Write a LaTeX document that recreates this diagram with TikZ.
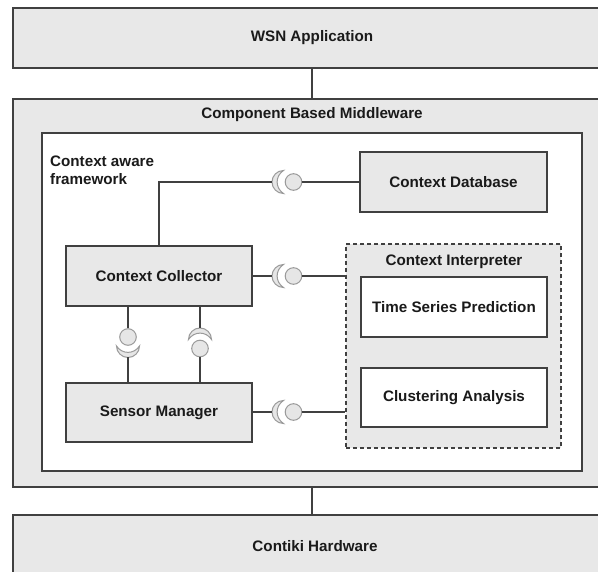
\documentclass[tikz,border=0pt]{standalone}
\usepackage{fontspec}
\setmainfont{Liberation Sans}
\definecolor{edge}{HTML}{404040}
\definecolor{boxfill}{HTML}{E8E8E8}
\definecolor{lollyline}{HTML}{9B9B9B}
\definecolor{lollyfill}{HTML}{E6E6E6}
\definecolor{txt}{HTML}{1A1A1A}
\begin{document}
\begin{tikzpicture}[x=1pt,y=-1pt,
  every node/.style={font=\fontsize{15.2}{17.5}\selectfont\bfseries, text=txt},
  box/.style={rectangle, draw=edge, fill=boxfill, line width=1.2pt, inner sep=0pt},
  whitebox/.style={box, fill=white},
  dashbox/.style={box, dash pattern=on 4pt off 3pt},
  label/.style={inner sep=0pt},
  wire/.style={draw=edge, line width=1.2pt},
  ball/.style={circle, draw=lollyline, fill=lollyfill, line width=1pt,
    minimum size=16.6pt, inner sep=0pt},
  socket/.pic={
    \draw[draw=lollyline, fill=lollyfill, line width=1pt]
      (0,-11.5) arc[start angle=270, end angle=90, radius=11.5]
      .. controls (-8.5,6) and (-8.5,-6) .. cycle;
  }
]
\useasboundingbox (0,0) rectangle (598,572);
\clip (0,0) rectangle (598,572);

% layers
\node[box, minimum width=598pt, minimum height=60pt] (wsn) at (312,38) {WSN Application};
\node[box, minimum width=598pt, minimum height=388pt] (mw) at (312,293) {};
\node[label] (mwtitle) at (312,115) {Component Based Middleware};
\node[box, minimum width=598pt, minimum height=105pt] (hw) at (312,567.5) {};
\node[label] (hwtitle) at (315,546) {Contiki Hardware};

% context aware framework
\node[whitebox, minimum width=540pt, minimum height=338pt] (frame) at (312,302) {};
\node[label, anchor=north west, align=left] (frametitle) at (50,156) {Context aware\\framework};

\node[box, minimum width=187pt, minimum height=60pt] (db) at (453.5,182) {Context Database};
\node[box, minimum width=186pt, minimum height=60pt] (cc) at (159,276) {Context Collector};
\node[box, minimum width=186pt, minimum height=59pt] (sm) at (159,412.5) {Sensor Manager};

\node[dashbox, minimum width=215pt, minimum height=204pt] (ci) at (453.5,346) {};
\node[label] (cititle) at (454,262) {Context Interpreter};
\node[whitebox, minimum width=186pt, minimum height=60pt] (tsp) at (454,307) {Time Series Prediction};
\node[whitebox, minimum width=186pt, minimum height=59pt] (cla) at (454,397.5) {Clustering Analysis};

% layer links
\draw[wire] (wsn.south) -- (mw.north);
\draw[wire] (mw.south) -- (hw.north);

% collector -> database
\coordinate (s1) at (272,182);
\pic at (283.5,182) {socket};
\node[ball] (b1) at (293.5,182) {};
\draw[wire] (cc.north) |- (s1);
\draw[wire] (b1.east) -- (db.west);

% collector -> interpreter
\coordinate (s2) at (272,276);
\pic at (283.5,276) {socket};
\node[ball] (b2) at (293.5,276) {};
\draw[wire] (cc.east) -- (s2);
\draw[wire] (b2.east) -- (ci.west |- b2);

% sensor manager -> interpreter
\coordinate (s3) at (272,412);
\pic at (283.5,412) {socket};
\node[ball] (b3) at (293.5,412) {};
\draw[wire] (sm.east |- s3) -- (s3);
\draw[wire] (b3.east) -- (ci.west |- b3);

% collector provides, sensor manager requires
\node[ball] (b4) at (128,337) {};
\pic[rotate=90] at (128,346) {socket};
\coordinate (s4) at (128,357.5);
\draw[wire] (cc.south -| b4) -- (b4.north);
\draw[wire] (s4) -- (sm.north -| s4);

% collector requires, sensor manager provides
\pic[rotate=-90] at (200,339.5) {socket};
\coordinate (s5) at (200,328);
\node[ball] (b5) at (200,348.5) {};
\draw[wire] (cc.south -| s5) -- (s5);
\draw[wire] (b5.south) -- (sm.north -| b5);
\end{tikzpicture}
\end{document}
